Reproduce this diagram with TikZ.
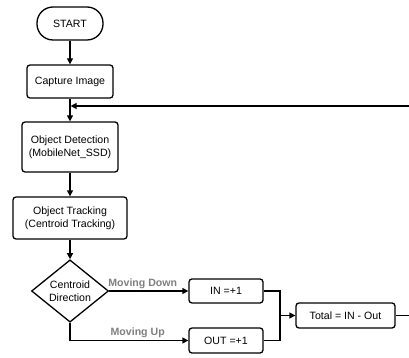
\documentclass[tikz,border=0pt]{standalone}
\usepackage{fontspec}
\setmainfont{Liberation Sans}
\usetikzlibrary{shapes.geometric,arrows.meta}
\definecolor{lblgray}{HTML}{808080}
\begin{document}
\begin{tikzpicture}[x=1pt,y=-1pt,
  every node/.style={font=\fontsize{10.6}{12.7}\selectfont},
  box/.style={draw, line width=1.3pt, rounded corners=3pt, align=center, inner sep=0pt},
  term/.style={draw, line width=1.3pt, rounded corners=16pt, inner sep=0pt},
  dec/.style={draw, diamond, line width=1.3pt, inner sep=0pt, align=center, minimum width=77pt, minimum height=56pt},
  conn/.style={line width=1.3pt},
  arr/.style={line width=1.3pt, -{Triangle[length=6pt,width=6pt]}},
  lbl/.style={font=\fontsize{10.6}{12.7}\selectfont\bfseries, text=lblgray, inner sep=1pt}]
\useasboundingbox (0,0) rectangle (409,358);
\node[term, minimum width=66pt, minimum height=33pt] (start) at (70,23.5) {START};
\node[box, minimum width=86pt, minimum height=33pt] (cap) at (70,81.5) {Capture Image};
\node[box, minimum width=96pt, minimum height=50pt] (det) at (70,147) {Object Detection\\(MobileNet\_SSD)};
\node[box, minimum width=114pt, minimum height=42pt] (trk) at (70,218) {Object Tracking\\(Centroid Tracking)};
\node[dec] (dir) at (70,291) {Centroid\\Direction};
\node[box, minimum width=74pt, minimum height=24pt] (in) at (226,291) {IN =+1};
\node[box, minimum width=74pt, minimum height=25pt] (out) at (226,340.5) {OUT =+1};
\node[box, minimum width=99pt, minimum height=25pt] (tot) at (345.5,315.5) {Total = IN - Out};
\coordinate (jn) at (280,315.5);
\coordinate (fbin) at (409,106);
\coordinate (fbj) at (70,106);
\coordinate (fbout) at (409,315.5);
\draw[arr] (start) -- (cap);
\draw[arr] (cap) -- (det);
\draw[arr] (det) -- (trk);
\draw[arr] (trk) -- (dir);
\draw[arr, shorten >=0.6pt] (fbin) -- (fbj);
\draw[arr] (dir.east) -- node[lbl, above, xshift=-6pt, yshift=1pt] {Moving Down} (in.west);
\draw[arr] (dir.south) |- node[lbl, above, pos=0.786, yshift=1pt] {Moving Up} (out.west);
\draw[conn] (in.east) -| (jn) |- (out.east);
\draw[arr] (jn) -- (tot.west);
\draw[conn] (tot.east) -- (fbout);
\end{tikzpicture}
\end{document}
